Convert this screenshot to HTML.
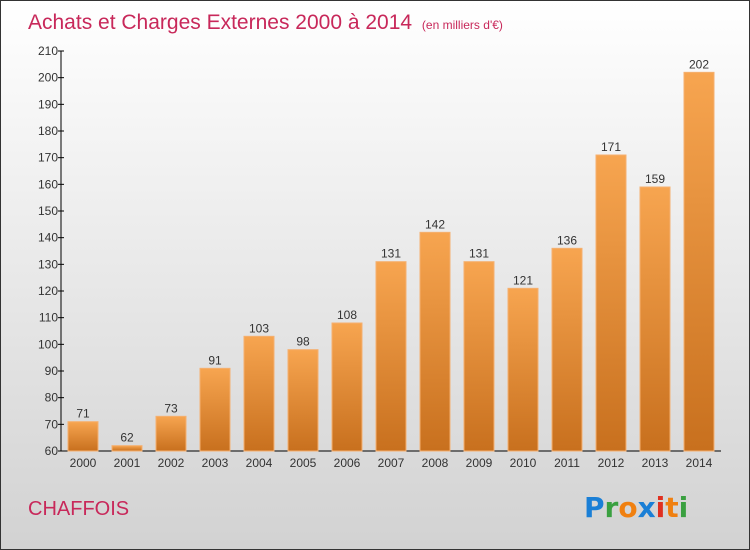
<!DOCTYPE html>
<html><head><meta charset="utf-8"><style>
body{margin:0}
#c{width:750px;height:550px;position:relative;box-sizing:border-box;border:1px solid #333;background:linear-gradient(#ffffff,#d2d2d2);font-family:"Liberation Sans",sans-serif;overflow:hidden}
svg{position:absolute;left:0;top:0}
</style></head><body>
<div id="c">
<svg id="s" width="750" height="550">
<defs><linearGradient id="g" x1="0" x2="0" y1="0" y2="1"><stop offset="0" stop-color="#f7a550"/><stop offset="1" stop-color="#c8701e"/></linearGradient></defs>
<text x="27" y="28" font-size="21" fill="#c8285a">Achats et Charges Externes 2000 à 2014 <tspan font-size="12" dx="4">(en milliers d'€)</tspan></text>
<text x="27" y="514" font-size="20" fill="#c8285a">CHAFFOIS</text>
<g font-size="28" font-weight="bold" font-family="'DejaVu Sans',sans-serif">
<text x="583" y="516"><tspan fill="#1a7fd6">P</tspan><tspan fill="#3aa040">r</tspan><tspan fill="#f08010">o</tspan><tspan fill="#1a7fd6">x</tspan><tspan fill="#e03020">i</tspan><tspan fill="#f08010">t</tspan><tspan fill="#3aa040">i</tspan></text></g>
<g id="plot"></g>
</svg></div>
<script>
const years=["2000","2001","2002","2003","2004","2005","2006","2007","2008","2009","2010","2011","2012","2013","2014"];
const values=[71,62,73,91,103,98,108,131,142,131,121,136,171,159,202];
const ticks=[60,70,80,90,100,110,120,130,140,150,160,170,180,190,200,210];
const ns="http://www.w3.org/2000/svg",p=document.getElementById('plot');
const y=v=>450-(v-60)*400/150, x=i=>82+i*44;
function mk(t,a,txt){const e=document.createElementNS(ns,t);for(const k in a)e.setAttribute(k,a[k]);if(txt!=null)e.textContent=txt;p.appendChild(e);return e;}
let e=mk('line',{x1:60,y1:50,x2:60,y2:450,stroke:'#000'});


e=mk('line',{x1:60,y1:450,x2:720,y2:450,stroke:'#000'});


ticks.forEach(t=>{
 e=mk('line',{x1:57,x2:63,y1:y(t),y2:y(t),stroke:'#000'});
 
 
 e=mk('text',{x:57,y:y(t)+4,'text-anchor':'end','font-size':12,fill:'#333'},t);
 
 
});
years.forEach((yr,i)=>{
 const v=values[i];
 e=mk('rect',{x:x(i)-15,y:y(v),width:30,height:450-y(v),fill:'url(#g)',stroke:'#f5b070','stroke-width':1});
 
 
 e=mk('text',{x:x(i),y:y(v)-4,'text-anchor':'middle','font-size':12,fill:'#333'},v);
 
 
 e=mk('text',{x:x(i),y:466,'text-anchor':'middle','font-size':12,fill:'#333'},yr);
 
 
});
</script>
</body></html>
